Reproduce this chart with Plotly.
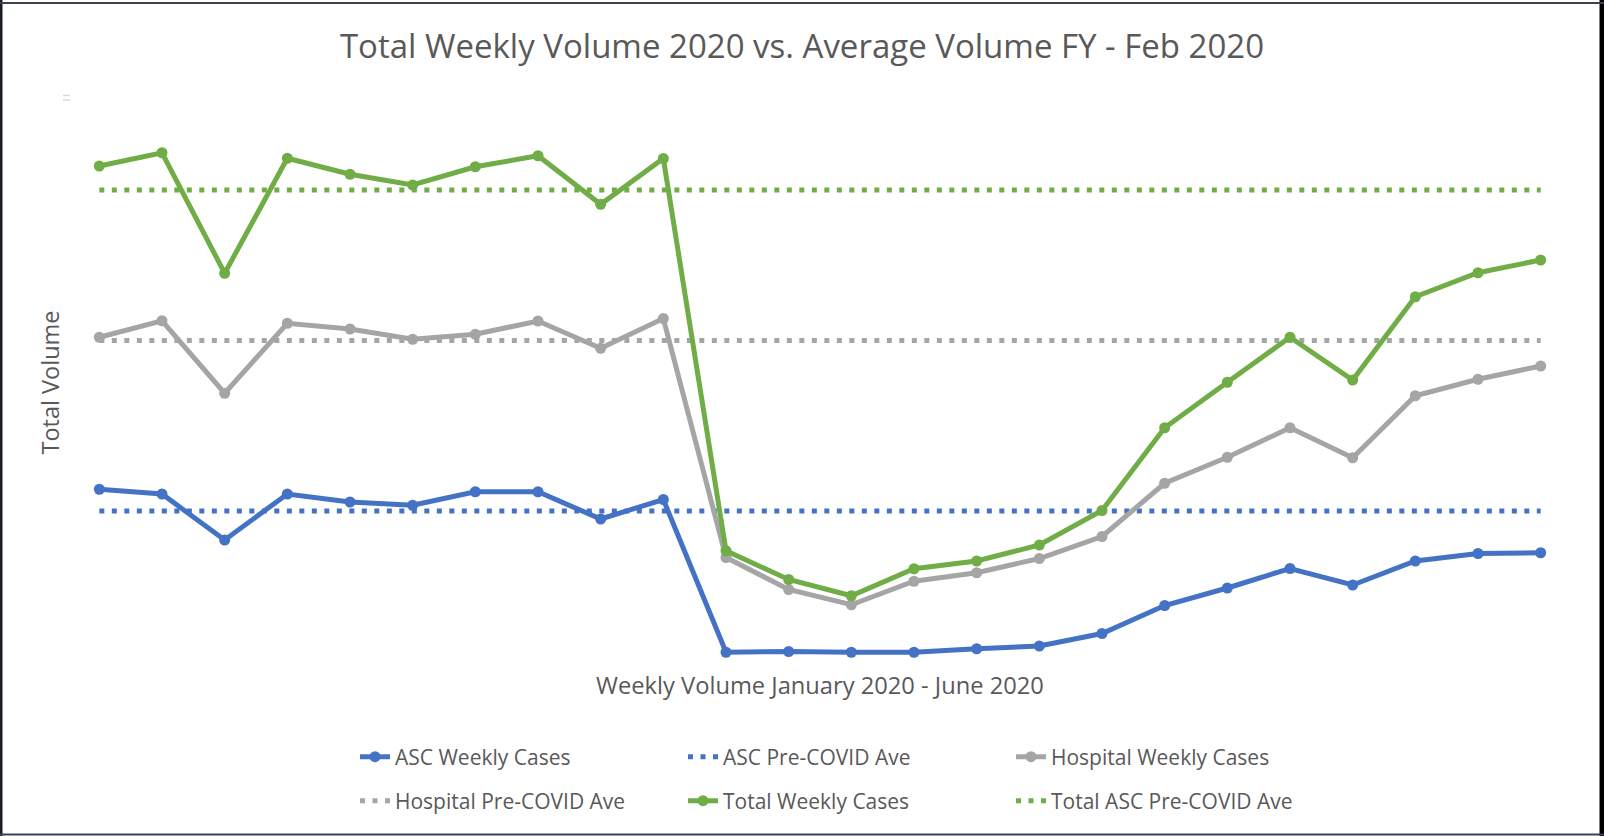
import plotly.graph_objects as go

weeks = [f"Week {i}" for i in range(1, 25)]

asc_weekly = [843, 824, 640, 824, 792, 779, 833, 833, 724, 802, 191, 194,
              191, 191, 205, 216, 266, 378, 448, 526, 460, 556, 586, 589]
hospital_weekly = [1451, 1517, 1227, 1507, 1484, 1443, 1463, 1516, 1407, 1526, 570, 442,
                   381, 475, 509, 566, 654, 867, 971, 1089, 969, 1217, 1283, 1336]
total_weekly = [2136, 2189, 1707, 2167, 2103, 2060, 2133, 2177, 1983, 2166, 597, 482,
                417, 525, 556, 620, 758, 1089, 1271, 1451, 1280, 1613, 1709, 1760]

asc_pre_covid_ave = 756
hospital_pre_covid_ave = 1438
total_pre_covid_ave = 2040

BLUE = "#4472C4"
GRAY = "#A5A5A5"
GREEN = "#70AD47"
TEXT = "#595959"
FONT = "Open Sans"

fig = go.Figure()

def solid(name, y, color, legend):
    fig.add_trace(go.Scatter(
        x=weeks, y=y, name=name, mode="lines+markers",
        line=dict(color=color, width=5),
        marker=dict(color=color, size=11),
        legend=legend,
    ))

def dotted(name, value, color, legend):
    fig.add_trace(go.Scatter(
        x=weeks, y=[value] * len(weeks), name=name, mode="lines",
        line=dict(color=color, width=5, dash="5px,7.5px"),
        legend=legend,
    ))

solid("ASC Weekly Cases", asc_weekly, BLUE, "legend")
dotted("ASC Pre-COVID Ave", asc_pre_covid_ave, BLUE, "legend")
solid("Hospital Weekly Cases", hospital_weekly, GRAY, "legend")
dotted("Hospital Pre-COVID Ave", hospital_pre_covid_ave, GRAY, "legend2")
solid("Total Weekly Cases", total_weekly, GREEN, "legend2")
dotted("Total ASC Pre-COVID Ave", total_pre_covid_ave, GREEN, "legend2")

W, H = 1604, 836
L, R, T, B = 68, 32, 100, 171
pw, ph = W - L - R, H - T - B

def px(x):
    return (x - L) / pw

def py(y):
    return (H - B - y) / ph

legend_common = dict(
    orientation="h", xref="container", yref="container",
    xanchor="left", yanchor="middle",
    entrywidth=283, entrywidthmode="pixels",
    font=dict(family=FONT, size=21, color=TEXT),
    bgcolor="rgba(0,0,0,0)", traceorder="normal",
)

border = "#1a1d26"
shapes = [
    dict(type="line", xref="paper", yref="paper", x0=px(1), x1=px(1), y0=py(0), y1=py(836),
         line=dict(color=border, width=3)),
    dict(type="line", xref="paper", yref="paper", x0=px(1602), x1=px(1602), y0=py(0), y1=py(836),
         line=dict(color="#000000", width=5)),
    dict(type="line", xref="paper", yref="paper", x0=px(0), x1=px(1604), y0=py(3), y1=py(3),
         line=dict(color="#3a4152", width=2)),
    dict(type="line", xref="paper", yref="paper", x0=px(0), x1=px(1604), y0=py(834.5), y1=py(834.5),
         line=dict(color="#3a4152", width=2)),
    dict(type="line", xref="paper", yref="paper", x0=px(63), x1=px(70), y0=py(95.5), y1=py(95.5),
         line=dict(color="#d9d9d9", width=1.5)),
    dict(type="line", xref="paper", yref="paper", x0=px(63), x1=px(70), y0=py(100), y1=py(100),
         line=dict(color="#d9d9d9", width=1.5)),
]

fig.update_layout(
    width=W, height=H,
    margin=dict(l=L, r=R, t=T, b=B),
    paper_bgcolor="white", plot_bgcolor="white",
    font=dict(family=FONT, color=TEXT),
    title=dict(text="Total Weekly Volume 2020 vs. Average Volume FY - Feb 2020",
               x=0.5, xref="container", xanchor="center",
               y=1 - 46 / H, yref="container", yanchor="middle",
               font=dict(family=FONT, size=33, color=TEXT)),
    xaxis=dict(range=[-0.5, 23.5], showticklabels=False, showgrid=False, zeroline=False,
               showline=False, ticks="",
               title=dict(text="Weekly Volume January 2020 - June 2020", standoff=12,
                          font=dict(family=FONT, size=23.7, color=TEXT))),
    yaxis=dict(range=[140, 2400], showticklabels=False, showgrid=False, zeroline=False,
               showline=False, ticks="",
               title=dict(text="Total Volume", standoff=0,
                          font=dict(family=FONT, size=23.5, color=TEXT))),
    legend=dict(x=355 / W, y=1 - 757 / H, **legend_common),
    legend2=dict(x=355 / W, y=1 - 801 / H, **legend_common),
    shapes=shapes,
    showlegend=True,
)

fig.write_html(
    "out.html",
    config={"displayModeBar": False},
    post_script="document.body.style.margin='0';document.body.style.overflow='hidden';",
)
